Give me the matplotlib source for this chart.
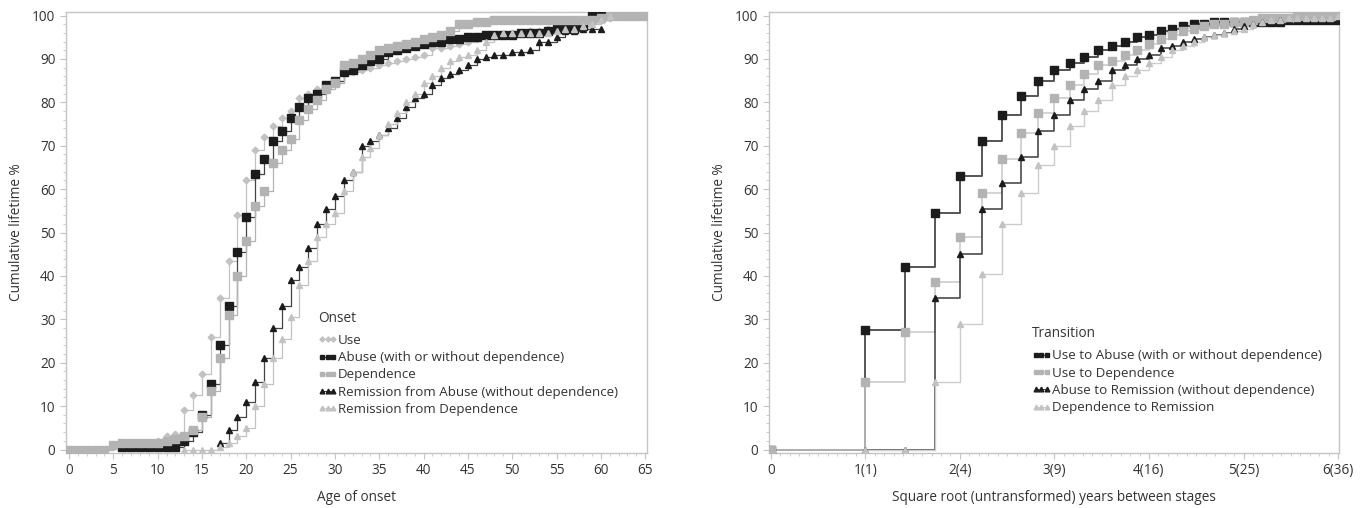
import numpy as np
import matplotlib.pyplot as plt
from matplotlib.ticker import MultipleLocator, FixedLocator

plt.rcParams['font.family'] = ['Open Sans', 'DejaVu Sans']
plt.rcParams['font.size'] = 9.6

# ---- Onset panel (age, %)
use_age = list(range(0, 66))
use_pct = [0, 0, 0, 0, 0, 0.5, 1, 1, 1.5, 1.5, 2, 3, 3.5, 9, 12.5, 17.5, 26, 35, 43.5, 54,
           62, 69, 72, 74.5, 76.5, 78, 81, 82, 83, 84, 85, 86.5, 87, 87.5, 88, 88.5, 89, 89.5,
           90, 90.5, 91, 92.5, 92.5, 93, 93.5, 94, 94.5, 95, 95.5, 95.5, 96, 96, 96.5, 96.5,
           97, 97, 97.5, 97.5, 98, 98.5, 99, 99.5, 100, 100, 100, 100]

abuse_age = list(range(6, 61))
abuse_pct = [0.5, 0.5, 0.5, 0.5, 0.5, 0.5, 0.5, 2, 4, 8, 15, 24, 33, 45.5, 53.5, 63.5, 67, 71,
             73.5, 76.5, 79, 81, 82, 84, 85, 87, 87.5, 88.5, 89.5, 90, 91.5, 92, 92.5, 93, 93.5,
             94, 94, 94.5, 94.5, 95, 95, 95.5, 95.5, 95.5, 95.5, 96, 96, 96, 96.5, 97, 97, 97,
             97.5, 100, 100]

dep_age = list(range(0, 66))
dep_pct = [0, 0, 0, 0, 0, 1, 1.5, 1.5, 1.5, 1.5, 1.5, 2, 2.5, 3, 4.5, 7.5, 13.5, 21, 31, 40,
           48, 56, 59.5, 66, 69, 71.5, 76, 78.5, 80.5, 83, 84.5, 88.5, 89, 90, 91, 92, 92.5,
           93, 93.5, 94, 94.5, 95, 95.5, 96.5, 98, 98, 98.5, 98.5, 99, 99, 99, 99, 99, 99, 99,
           99, 99, 99, 99, 99, 99.5, 100, 100, 100, 100, 100]

rem_ab_age = list(range(17, 61))
rem_ab_pct = [1.5, 4.5, 7.5, 11, 15.5, 21, 28, 33, 39, 42, 46.5, 52, 55.5, 58.5, 62, 64, 70, 71,
              72.5, 74, 76.5, 79, 81, 82, 84, 85.5, 86.5, 87.5, 88.5, 90, 90.5, 91, 91, 91.5,
              91.5, 92, 94, 94, 95, 96.5, 96.5, 97, 97, 97]

rem_dep_age = list(range(13, 62))
rem_dep_pct = [0, 0, 0, 0, 0.5, 1.5, 3, 5, 10, 15, 21, 25.5, 30.5, 38, 43.5, 49, 52, 54.5, 59.5,
               64, 67.5, 69.5, 72.5, 75, 77.5, 80, 82, 84.5, 86, 88, 89.5, 90.5, 91, 92, 94,
               95.5, 96, 96, 96, 96, 96, 96, 96.5, 97, 97, 97.5, 98, 99, 100]

# ---- Transition panel (years between stages, %)
ua_yr = list(range(0, 37))
ua_pct = [0, 27.5, 42, 54.5, 63, 71, 77, 81.5, 85, 87.5, 89, 90.5, 92, 93, 94, 95, 95.5, 96.5,
          97, 97.5, 98, 98, 98.5, 98.5, 98.5, 98.5, 98.5, 98.5, 98.5, 98.5, 99, 99, 99, 99, 99,
          99, 99]

ud_yr = list(range(0, 37))
ud_pct = [0, 15.5, 27, 38.5, 49, 59, 67, 73, 77.5, 81, 84, 86.5, 88.5, 89.5, 91, 92, 93.5, 94.5,
          95.5, 96.5, 97, 97.5, 98, 98, 98.5, 98.5, 99, 99.5, 99.5, 99.5, 99.5, 100, 100, 100,
          100, 100, 100]

ar_yr = list(range(1, 37))
ar_pct = [0, 0, 35, 45, 55.5, 61.5, 67.5, 73.5, 77, 80.5, 83, 85, 87.5, 88.5, 90, 91, 92.5, 93,
          94, 94.5, 95, 95.5, 96, 97, 97.5, 98, 98.5, 98.5, 99, 99, 99, 99, 99, 99, 99, 99]

dr_yr = list(range(1, 37))
dr_pct = [0, 0, 15.5, 29, 40.5, 52, 59, 65.5, 70, 74.5, 78, 80.5, 84, 86, 87.5, 89, 90.5, 92, 93,
          94, 95, 95.5, 96, 96.5, 97, 98, 98.5, 99, 99, 99.5, 99.5, 99.5, 99.5, 99.5, 99.5, 100]

onset_labels = ['Use', 'Abuse (with or without dependence)', 'Dependence',
                'Remission from Abuse (without dependence)', 'Remission from Dependence']
trans_labels = ['Use to Abuse (with or without dependence)', 'Use to Dependence',
                'Abuse to Remission (without dependence)', 'Dependence to Remission']
trans_ticks = [0, 1, 2, 3, 4, 5, 6]
trans_ticklabels = ['0', '1(1)', '2(4)', '3(9)', '4(16)', '5(25)', '6(36)']

TXT = '#333333'
AX = '#c4c4c4'
LG = '#c2c2c2'   # light gray
MG = '#b3b3b3'   # medium gray
BK = '#1c1c1c'


def series(ax, x, y, mcol, lcol, marker, ms, lw, label):
    ax.step(x, y, where='post', color=lcol, lw=lw, zorder=2)
    ax.plot(x, y, ls='none', marker=marker, ms=ms, color=mcol, mec=mcol, zorder=3)
    # legend sample: three small markers on a thin line
    ax.plot([], [], marker=marker, ms=3.4 if marker != 'D' else 2.6, color=mcol, lw=0.6,
            label=label)


def style(ax):
    for s in ax.spines.values():
        s.set_color(AX)
        s.set_linewidth(1.0)
    ax.set_ylim(-0.8, 100.8)
    ax.yaxis.set_major_locator(MultipleLocator(10))
    ax.yaxis.set_minor_locator(MultipleLocator(2))
    ax.tick_params(which='both', color=AX, labelcolor=TXT, labelsize=9.8)
    ax.tick_params(which='major', length=4)
    ax.tick_params(which='minor', length=2.5)
    ax.set_ylabel('Cumulative lifetime %', color=TXT, fontsize=9.8, labelpad=6)


def legend(ax, anchor, title):
    leg = ax.legend(loc='upper left', bbox_to_anchor=anchor, frameon=False, title=title,
                    numpoints=3, handlelength=1.4, handletextpad=0.1, labelspacing=0.32,
                    fontsize=9.6, title_fontsize=9.8, borderaxespad=0)
    leg._legend_box.align = 'left'
    leg._legend_box.sep = 6
    leg.get_title().set_color(TXT)
    for t in leg.get_texts():
        t.set_color(TXT)


fig = plt.figure(figsize=(13.68, 5.08), dpi=100)
ax1 = fig.add_axes([0.0482, 0.1083, 0.4247, 0.868])
ax2 = fig.add_axes([0.5621, 0.1083, 0.4167, 0.868])

series(ax1, use_age, use_pct, LG, LG, 'D', 3.4, 0.9, onset_labels[0])
series(ax1, abuse_age, abuse_pct, BK, '#444444', 's', 5.6, 0.9, onset_labels[1])
series(ax1, dep_age, dep_pct, MG, MG, 's', 5.6, 0.9, onset_labels[2])
series(ax1, rem_ab_age, rem_ab_pct, BK, '#444444', '^', 5.0, 0.9, onset_labels[3])
series(ax1, rem_dep_age, rem_dep_pct, LG, LG, '^', 5.0, 0.9, onset_labels[4])

style(ax1)
ax1.set_xlim(-0.35, 65.2)
ax1.xaxis.set_major_locator(MultipleLocator(5))
ax1.xaxis.set_minor_locator(MultipleLocator(1))
ax1.set_xlabel('Age of onset', color=TXT, fontsize=9.8, labelpad=8)
legend(ax1, (0.425, 0.335), 'Onset')

series(ax2, np.sqrt(ua_yr), ua_pct, BK, '#555555', 's', 5.6, 1.4, trans_labels[0])
series(ax2, np.sqrt(ud_yr), ud_pct, MG, '#c8c8c8', 's', 5.6, 1.1, trans_labels[1])
series(ax2, np.sqrt(ar_yr), ar_pct, BK, '#3c3c3c', '^', 5.0, 1.1, trans_labels[2])
series(ax2, np.sqrt(dr_yr), dr_pct, LG, '#cccccc', '^', 5.0, 1.0, trans_labels[3])

style(ax2)
ax2.set_xlim(-0.02, 6.01)
ax2.xaxis.set_major_locator(FixedLocator(trans_ticks))
ax2.set_xticklabels(trans_ticklabels)
ax2.xaxis.set_minor_locator(MultipleLocator(0.1))
ax2.set_xlabel('Square root (untransformed) years between stages', color=TXT, fontsize=9.8,
               labelpad=8)
legend(ax2, (0.452, 0.30), 'Transition')

fig.savefig('out.png', dpi=100)
